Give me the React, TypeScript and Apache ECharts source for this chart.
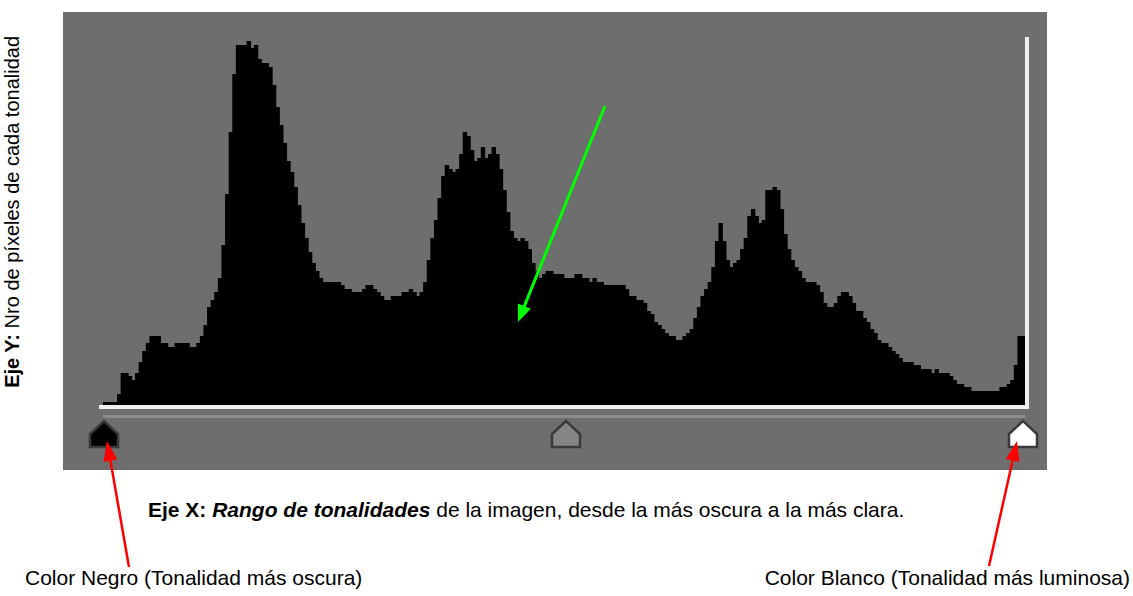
import React, { useEffect, useRef } from "react";
import * as echarts from "echarts";

// Tonal levels (0 = black ... 255 = white)
const tonalLevels: number[] = Array.from({ length: 256 }, (_, i) => i);

// Relative pixel count per tonal level
const pixelCounts: number[] = [
  3, 3, 3, 3, 11, 32, 32, 29, 25, 32,
  43, 54, 62, 69, 69, 69, 62, 62, 58, 58,
  62, 62, 62, 62, 58, 58, 62, 69, 80, 98,
  105, 113, 127, 160, 211, 273, 331, 360, 360, 360,
  364, 357, 360, 346, 342, 342, 338, 320, 298, 280,
  262, 244, 233, 218, 200, 182, 167, 153, 142, 134,
  127, 123, 123, 123, 123, 123, 120, 116, 116, 113,
  113, 113, 116, 120, 120, 116, 113, 109, 105, 105,
  109, 109, 109, 113, 113, 116, 113, 109, 113, 123,
  145, 167, 185, 207, 229, 240, 236, 233, 236, 251,
  273, 269, 255, 244, 247, 258, 247, 251, 258, 251,
  236, 215, 193, 174, 167, 164, 167, 164, 156, 142,
  134, 127, 131, 134, 134, 131, 131, 131, 127, 127,
  127, 131, 131, 127, 127, 123, 127, 123, 123, 120,
  120, 120, 120, 120, 120, 116, 109, 109, 105, 105,
  102, 94, 91, 83, 80, 76, 72, 69, 69, 65,
  65, 69, 72, 76, 87, 98, 109, 116, 123, 138,
  164, 182, 164, 145, 138, 142, 145, 156, 167, 189,
  196, 189, 182, 185, 215, 215, 218, 215, 196, 171,
  156, 145, 138, 134, 127, 123, 123, 123, 120, 113,
  102, 98, 98, 102, 109, 113, 113, 109, 102, 94,
  94, 87, 83, 76, 72, 65, 62, 62, 58, 54,
  51, 47, 43, 43, 43, 40, 40, 36, 36, 36,
  32, 36, 32, 32, 32, 29, 25, 21, 21, 18,
  18, 14, 14, 14, 14, 14, 14, 14, 14, 18,
  18, 21, 25, 40, 69, 69,
];

const yAxisLabelBold = "Eje Y:";
const yAxisLabelRest = " Nro de píxeles de cada tonalidad";
const xAxisLabelBold = "Eje X: ";
const xAxisLabelBoldItalic = "Rango de tonalidades";
const xAxisLabelRest = " de la imagen, desde la más oscura a la más clara.";
const blackLabel = "Color Negro (Tonalidad más oscura)";
const whiteLabel = "Color Blanco (Tonalidad más luminosa)";

const FONT = "'Liberation Sans', Arial, sans-serif";
const FS = 20;
const FSX = 21;
const FSB = 21;

function arrowHead(tip: [number, number], from: [number, number], len: number, half: number) {
  const dx = tip[0] - from[0];
  const dy = tip[1] - from[1];
  const L = Math.sqrt(dx * dx + dy * dy);
  const ux = dx / L;
  const uy = dy / L;
  const bx = tip[0] - ux * len;
  const by = tip[1] - uy * len;
  return [
    [tip[0], tip[1]],
    [bx - uy * half, by + ux * half],
    [bx + uy * half, by - ux * half],
  ];
}

function slider(cx: number, fill: string, stroke: string) {
  return {
    type: "polygon",
    z: 20,
    shape: {
      points: [
        [cx, 421],
        [cx - 14, 434],
        [cx - 14, 447],
        [cx + 14, 447],
        [cx + 14, 434],
      ],
    },
    style: { fill, stroke, lineWidth: 2.5 },
  };
}

export default function App() {
  const ref = useRef<HTMLDivElement>(null);

  useEffect(() => {
    if (!ref.current) return;
    const chart = echarts.init(ref.current, undefined, { renderer: "svg" });

    const greenFrom: [number, number] = [605, 106];
    const greenTip: [number, number] = [518, 322];
    const redLFrom: [number, number] = [129, 567];
    const redLTip: [number, number] = [107, 441];
    const redRFrom: [number, number] = [989, 566];
    const redRTip: [number, number] = [1017, 441];

    const lineEnd = (from: [number, number], tip: [number, number], back: number) => {
      const dx = tip[0] - from[0];
      const dy = tip[1] - from[1];
      const L = Math.sqrt(dx * dx + dy * dy);
      return [tip[0] - (dx / L) * back, tip[1] - (dy / L) * back];
    };
    const gEnd = lineEnd(greenFrom, greenTip, 12);
    const rlEnd = lineEnd(redLFrom, redLTip, 14);
    const rrEnd = lineEnd(redRFrom, redRTip, 14);

    chart.setOption({
      animation: false,
      backgroundColor: "#ffffff",
      grid: { left: 103, top: 35, width: 922, height: 370, containLabel: false },
      xAxis: {
        type: "category",
        data: tonalLevels,
        boundaryGap: true,
        axisLine: { show: false },
        axisTick: { show: false },
        axisLabel: { show: false },
        splitLine: { show: false },
      },
      yAxis: {
        type: "value",
        min: 0,
        max: 370,
        axisLine: { show: false },
        axisTick: { show: false },
        axisLabel: { show: false },
        splitLine: { show: false },
      },
      series: [
        {
          type: "bar",
          data: pixelCounts,
          barWidth: 4.4,
          itemStyle: { color: "#000000" },
          emphasis: { disabled: true },
          z: 5,
        },
      ],
      graphic: [
        {
          type: "rect",
          z: 0,
          shape: { x: 63, y: 12, width: 984, height: 458 },
          style: { fill: "#6e6e6e" },
          silent: true,
        },
        {
          type: "rect",
          z: 10,
          shape: { x: 99, y: 405, width: 930, height: 4 },
          style: { fill: "#f0f0f0" },
        },
        {
          type: "rect",
          z: 10,
          shape: { x: 1025, y: 37, width: 4, height: 372 },
          style: { fill: "#f0f0f0" },
        },
        {
          type: "rect",
          z: 10,
          shape: { x: 103, y: 415, width: 922, height: 3 },
          style: { fill: "#8c8c8c" },
        },
        slider(104, "#000000", "#3a3a3a"),
        slider(566, "#858585", "#3a3a3a"),
        slider(1023, "#ffffff", "#3a3a3a"),
        {
          type: "line",
          z: 30,
          shape: { x1: greenFrom[0], y1: greenFrom[1], x2: gEnd[0], y2: gEnd[1] },
          style: { stroke: "#00ff00", lineWidth: 3 },
        },
        {
          type: "polygon",
          z: 30,
          shape: { points: arrowHead(greenTip, greenFrom, 17, 7) },
          style: { fill: "#00ff00" },
        },
        {
          type: "line",
          z: 30,
          shape: { x1: redLFrom[0], y1: redLFrom[1], x2: rlEnd[0], y2: rlEnd[1] },
          style: { stroke: "#ff0000", lineWidth: 2.5 },
        },
        {
          type: "polygon",
          z: 30,
          shape: { points: arrowHead(redLTip, redLFrom, 20, 7) },
          style: { fill: "#ff0000" },
        },
        {
          type: "line",
          z: 30,
          shape: { x1: redRFrom[0], y1: redRFrom[1], x2: rrEnd[0], y2: rrEnd[1] },
          style: { stroke: "#ff0000", lineWidth: 2.5 },
        },
        {
          type: "polygon",
          z: 30,
          shape: { points: arrowHead(redRTip, redRFrom, 20, 7) },
          style: { fill: "#ff0000" },
        },
        {
          type: "text",
          z: 30,
          x: 12,
          y: 212,
          rotation: Math.PI / 2,
          style: {
            text: "{b|" + yAxisLabelBold + "}{n|" + yAxisLabelRest + "}",
            align: "center",
            verticalAlign: "middle",
            textAlign: "center",
            textVerticalAlign: "middle",
            fill: "#000",
            rich: {
              b: { fontFamily: FONT, fontSize: FS, fontWeight: "bold", fill: "#000" },
              n: { fontFamily: FONT, fontSize: FS, fill: "#000" },
            },
          },
        },
        {
          type: "text",
          z: 30,
          x: 148,
          y: 509,
          style: {
            text:
              "{b|" + xAxisLabelBold + "}{bi|" + xAxisLabelBoldItalic + "}{n|" + xAxisLabelRest + "}",
            align: "left",
            verticalAlign: "middle",
            textAlign: "left",
            textVerticalAlign: "middle",
            fill: "#000",
            rich: {
              b: { fontFamily: FONT, fontSize: FSX, fontWeight: "bold", fill: "#000" },
              bi: { fontFamily: FONT, fontSize: FSX, fontWeight: "bold", fontStyle: "italic", fill: "#000" },
              n: { fontFamily: FONT, fontSize: FSX, fill: "#000" },
            },
          },
        },
        {
          type: "text",
          z: 30,
          x: 25,
          y: 577,
          style: {
            text: blackLabel,
            fontFamily: FONT,
            fontSize: FSB,
            fill: "#000",
            align: "left",
            verticalAlign: "middle",
            textAlign: "left",
            textVerticalAlign: "middle",
          },
        },
        {
          type: "text",
          z: 30,
          x: 1130,
          y: 577,
          style: {
            text: whiteLabel,
            fontFamily: FONT,
            fontSize: FSB,
            fill: "#000",
            align: "right",
            verticalAlign: "middle",
            textAlign: "right",
            textVerticalAlign: "middle",
          },
        },
      ],
    });

    return () => {
      chart.dispose();
    };
  }, []);

  return (
    <div
      ref={ref}
      style={{ position: "fixed", left: 0, top: 0, width: 1133, height: 596, background: "#fff" }}
    />
  );
}
